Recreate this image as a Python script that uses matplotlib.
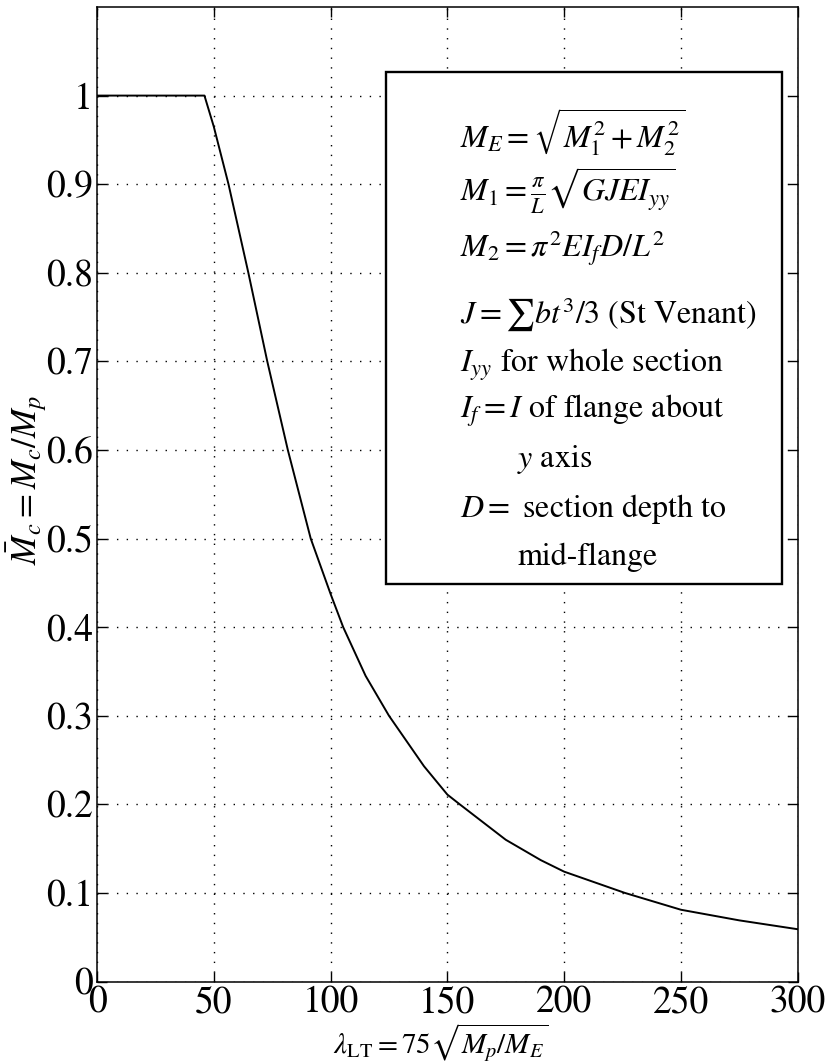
import numpy as np
import matplotlib
matplotlib.use("Agg")
import matplotlib.pyplot as plt
from matplotlib.patches import Rectangle
from matplotlib.ticker import FormatStrFormatter

plt.rcParams['font.family'] = ['STIXGeneral', 'DejaVu Serif']
plt.rcParams['mathtext.fontset'] = 'stix'

# slenderness vs. moment capacity ratio
lam = [0, 46, 50, 56.3, 64.8, 72.9, 81.7, 91.5, 100, 105.4, 115, 125,
       140, 150, 155.3, 175, 190, 200, 226, 250, 275, 300]
mc = [1.0, 1.0, 0.965, 0.9, 0.8, 0.7, 0.6, 0.5, 0.4375, 0.4, 0.345, 0.3,
      0.243, 0.211, 0.2, 0.16, 0.137, 0.124, 0.1, 0.081, 0.069, 0.059]

xticks = [0, 50, 100, 150, 200, 250, 300]
yticks = [0, 0.1, 0.2, 0.3, 0.4, 0.5, 0.6, 0.7, 0.8, 0.9, 1.0]

notes = [
    r"$M_E = \sqrt{M_1^2 + M_2^2}$",
    r"$M_1 = \frac{\pi}{L}\sqrt{GJEI_{yy}}$",
    r"$M_2 = \pi^2 EI_f D/L^2$",
    r"$J = \sum bt^3/3$ (St Venant)",
    r"$I_{yy}$ for whole section",
    r"$I_f = I$ of flange about",
    r"$y$ axis",
    r"$D =$ section depth to",
    r"mid-flange",
]
note_y = [148, 202, 257, 323, 372, 418, 467, 517, 565]
note_x = [460, 460, 460, 460, 460, 460, 517, 460, 517]

W, H = 830, 1063
fig = plt.figure(figsize=(W / 100, H / 100), dpi=100)
ax = fig.add_axes([97 / W, 1 - 981.5 / H, (797.7 - 97) / W, (981.5 - 7) / H])

ax.plot(lam, mc, color='black', lw=1.4, zorder=3)

ax.set_xlim(0, 300)
ax.set_ylim(0, 1.1)
ax.set_xticks(xticks)
ax.set_yticks(yticks)
ax.yaxis.set_major_formatter(FormatStrFormatter('%g'))
ax.tick_params(direction='in', length=7, width=1, top=True, right=True,
               labelsize=27, pad=3)
ax.grid(True, color='black', lw=1.0, linestyle=(0, (1, 6)))
for s in ax.spines.values():
    s.set_linewidth(1.1)

ax.set_xlabel(r"$\lambda_{\mathrm{LT}} = 75\sqrt{M_p/M_E}$", fontsize=21)
ax.xaxis.set_label_coords(0.49, -0.041)
ax.set_ylabel(r"$\bar{M}_c = M_c/M_p$", fontsize=25)
ax.yaxis.set_label_coords(-0.068, 0.515)

# formula box
box = Rectangle((385.7 / W, 1 - 584.3 / H), (782 - 385.7) / W, (584.3 - 71.7) / H,
                transform=fig.transFigure, facecolor='white', edgecolor='black',
                lw=1.7, zorder=5)
fig.patches.append(box)
for t, xp, yp in zip(notes, note_x, note_y):
    fig.text(xp / W, 1 - yp / H, t, fontsize=23, va='baseline', ha='left', zorder=6)

fig.savefig("out.png", dpi=100)
